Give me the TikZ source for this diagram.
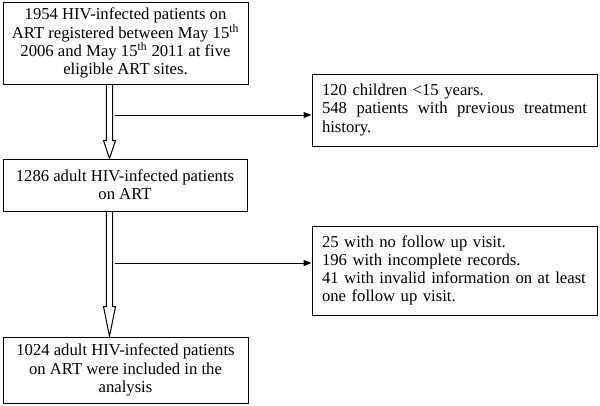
\documentclass[tikz,border=0pt]{standalone}
\usepackage{fontspec}
\setmainfont{Liberation Serif}
\usetikzlibrary{arrows.meta,calc}
\begin{document}
\begin{tikzpicture}[x=0.75pt,y=-0.75pt,
  box/.style={draw=black,line width=0.75pt,font=\fontsize{12.5}{13.6}\selectfont,inner sep=0pt},
  cbox/.style={box,align=center},
  lbox/.style={box,text width=198.75pt,align=left,inner xsep=7.5pt},
  thinarrow/.style={line width=0.75pt,-{Triangle[length=6pt,width=4.5pt]}},
  fatarrow/.style={line width=0.75pt,line join=miter}]
\useasboundingbox (0,0) rectangle (600,405);
\node[cbox,minimum width=183.75pt,minimum height=61.5pt] (b1) at (125.5,43)
  {1954 HIV-infected patients on\\ART registered between May 15\textsuperscript{th}\\2006 and May 15\textsuperscript{th} 2011 at five\\eligible ART sites.};
\node[cbox,minimum width=183pt,minimum height=39pt] (b2) at (125,185)
  {1286 adult HIV-infected patients\\on ART};
\node[cbox,minimum width=183.75pt,minimum height=49.5pt] (b3) at (125.5,370)
  {1024 adult HIV-infected patients\\on ART were included in the\\analysis};
\node[lbox,minimum height=54pt] (r1) at (454.5,110)
  {120 children <15 years.\\\leavevmode\hbox to 198.75pt{548\hfill patients\hfill with\hfill previous\hfill treatment}\\history.};
\node[lbox,minimum height=66.75pt] (r2) at (454.5,270.5)
  {25 with no follow up visit.\\196 with incomplete records.\\41 with invalid information on at least\\one follow up visit.};
\coordinate (ax) at (109.5,0);
\draw[fatarrow] let \p1=(b1.south -| ax), \p2=(b2.north -| ax) in
  (\x1-2.4pt,\y1) -- (\x1-2.4pt,\y2+13.5pt) -- (\x1-4.5pt,\y2+13.5pt) -- (\p2)
  -- (\x1+4.5pt,\y2+13.5pt) -- (\x1+2.4pt,\y2+13.5pt) -- (\x1+2.4pt,\y1);
\draw[fatarrow] let \p1=(b2.south -| ax), \p2=(b3.north -| ax) in
  (\x1-2.4pt,\y1) -- (\x1-2.4pt,\y2+22.5pt) -- (\x1-4.5pt,\y2+22.5pt) -- (\p2)
  -- (\x1+4.5pt,\y2+22.5pt) -- (\x1+2.4pt,\y2+22.5pt) -- (\x1+2.4pt,\y1);
\coordinate (s1) at (115,115);
\coordinate (s2) at (115,263);
\draw[thinarrow] (s1) -- (r1.west |- s1);
\draw[thinarrow] (s2) -- (r2.west |- s2);
\end{tikzpicture}
\end{document}
